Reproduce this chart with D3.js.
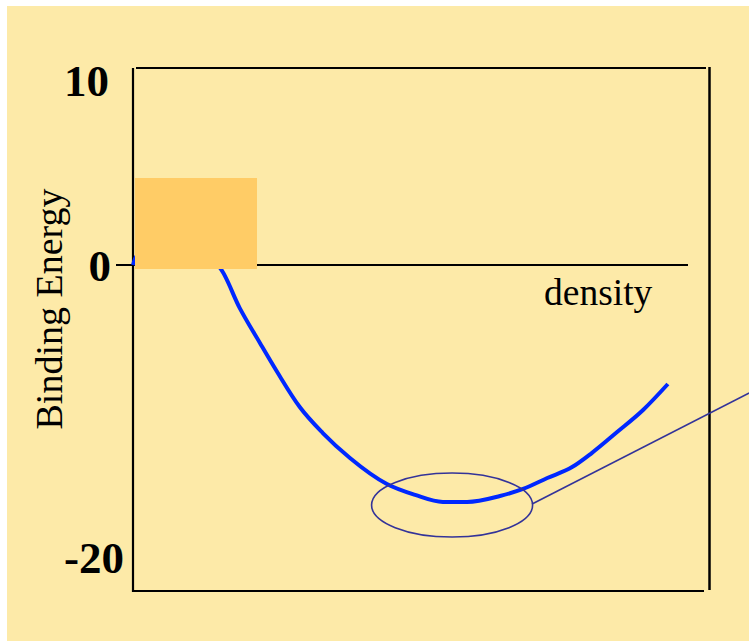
<!DOCTYPE html>
<html><head><meta charset="utf-8">
<script src="https://cdn.jsdelivr.net/npm/d3@7"></script>
<style>html,body{margin:0;padding:0;background:#fff;}svg{display:block;}</style>
</head><body>
<script>
// Data
const densityValues = [0, 0.07, 1.30, 1.51, 1.85, 2.20, 2.51, 2.89, 3.29, 3.76, 4.40, 4.89, 5.37, 5.79, 6.36, 6.76, 7.18, 7.61, 7.95, 8.39, 8.84, 9.27];
const energyValues  = [0, 0.49, 0.30, -0.21, -2.95, -5.34, -7.40, -9.73, -11.51, -13.22, -15.00, -15.75, -16.23, -16.23, -15.82, -15.34, -14.59, -13.84, -12.88, -11.44, -9.93, -8.15];
const tickValues = [10, 0, -20];
const tickLabels = ["10", "0", "-20"];
const xTitle = "density";
const yTitle = "Binding Energy";
const minimumRegion = {density: 5.53, energy: -16.44};
const pointerEnd = {density: 10.68, energy: -8.77};

const W = 749, H = 641;
const svg = d3.select("body").append("svg").attr("width", W).attr("height", H);

svg.append("rect").attr("x", 7).attr("y", 6).attr("width", W - 7).attr("height", H - 6).attr("fill", "#FDEAA8");

const x = d3.scaleLinear().domain([0, 10]).range([133, 710]);
const y = d3.scaleLinear().domain([-20, 0, 10]).range([557, 265, 80]);

// frame
const fr = svg.append("g").attr("stroke", "#000").attr("stroke-width", 2.2).attr("fill", "none");
fr.append("line").attr("x1", 133).attr("x2", 133).attr("y1", 68).attr("y2", 592);
fr.append("line").attr("x1", 136).attr("x2", 706).attr("y1", 68).attr("y2", 68);
fr.append("line").attr("x1", 709.5).attr("x2", 709.5).attr("y1", 67).attr("y2", 590).attr("stroke-width", 2.5);
fr.append("line").attr("x1", 133).attr("x2", 704).attr("y1", 591).attr("y2", 591);

// zero line
svg.append("line").attr("x1", 116).attr("x2", 688).attr("y1", y(0)).attr("y2", y(0))
  .attr("stroke", "#000").attr("stroke-width", 2);

// curve
const pts = densityValues.map((d, i) => [d, energyValues[i]]);
svg.append("path").datum(pts)
  .attr("d", d3.line().x(d => x(d[0])).y(d => y(d[1])).curve(d3.curveMonotoneX))
  .attr("fill", "none").attr("stroke", "#0028FF").attr("stroke-width", 4)
  .attr("stroke-linejoin", "round");

// orange box
svg.append("rect").attr("x", 135).attr("y", 178).attr("width", 122).attr("height", 91).attr("fill", "#FFCC66");

// ellipse + pointer
const cx = x(minimumRegion.density), cy = y(minimumRegion.energy);
svg.append("ellipse").attr("cx", cx).attr("cy", cy).attr("rx", 80.5).attr("ry", 32)
  .attr("fill", "none").attr("stroke", "#333399").attr("stroke-width", 1.6);
svg.append("line").attr("x1", cx + 80).attr("y1", cy - 1).attr("x2", x(pointerEnd.density)).attr("y2", y(pointerEnd.energy))
  .attr("stroke", "#333399").attr("stroke-width", 1.6);

// tick labels
const labelRight = {"10": 109, "0": 111, "-20": 124};
svg.selectAll("text.tick").data(tickValues).enter().append("text")
  .attr("class", "tick")
  .attr("x", (d, i) => labelRight[tickLabels[i]])
  .attr("y", d => y(d) + 16)
  .attr("text-anchor", "end")
  .attr("font-family", "Liberation Serif, Times New Roman, serif")
  .attr("font-weight", "bold").attr("font-size", 45)
  .text((d, i) => tickLabels[i]);

svg.append("text").attr("x", 544).attr("y", 305)
  .attr("font-family", "Liberation Serif, Times New Roman, serif").attr("font-size", 37.5)
  .text(xTitle);

svg.append("text").attr("transform", "translate(62,309) rotate(-90)")
  .attr("text-anchor", "middle")
  .attr("font-family", "Liberation Serif, Times New Roman, serif").attr("font-size", 38)
  .text(yTitle);
</script>
</body></html>
